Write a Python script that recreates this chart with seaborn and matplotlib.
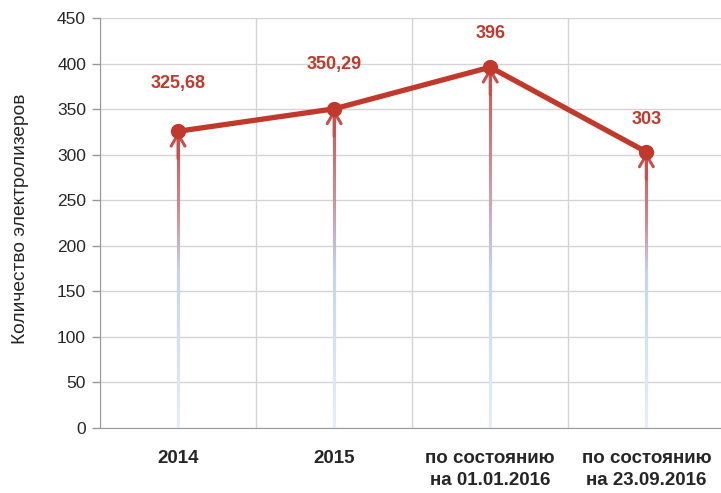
import numpy as np
import pandas as pd
import matplotlib
matplotlib.use("Agg")
import matplotlib.pyplot as plt
import seaborn as sns
from matplotlib.collections import LineCollection
from matplotlib.colors import LinearSegmentedColormap

categories = ["2014", "2015", "по состоянию\nна 01.01.2016", "по состоянию\nна 23.09.2016"]
values = [325.68, 350.29, 396, 303]
value_labels = ["325,68", "350,29", "396", "303"]
y_ticks = list(range(0, 451, 50))

RED = "#c0392b"
SHAFT_RED = "#c6504e"

sns.set_style("white")
plt.rcParams["font.family"] = ["Liberation Sans", "DejaVu Sans"]

df = pd.DataFrame({"pos": np.arange(len(categories)), "value": values})

fig = plt.figure(figsize=(7.21, 4.93), dpi=100)
ax = fig.add_axes([0.1387, 0.1318, 0.866, 0.8317])

# gradient arrows from 0 up to each point: pale blue at the bottom, red at the top
for x, v in zip(df["pos"], df["value"]):
    cmap = LinearSegmentedColormap.from_list(
        "shaft", [(0, "#e8eef9"), (170 / v, "#c4d5f1"), (0.75, "#c98a94"), (1, SHAFT_RED)])
    ys = np.linspace(0, v - 6, 240)
    segs = [[(x, ys[i]), (x, ys[min(i + 2, len(ys) - 1)])] for i in range(len(ys) - 1)]
    cols = cmap(ys[:-1] / v)
    ax.add_collection(LineCollection(segs, colors=cols, linewidths=2.2,
                                     capstyle="butt", zorder=2))
    ax.annotate("", xy=(x, v), xytext=(x, v - 30),
                arrowprops=dict(arrowstyle="->,head_length=0.85,head_width=0.5",
                                color=SHAFT_RED, lw=2.2, shrinkA=0, shrinkB=0),
                zorder=2)

sns.lineplot(data=df, x="pos", y="value", ax=ax, color=RED, linewidth=3.8,
             marker="o", markersize=11, markeredgewidth=0, zorder=3)

label_offsets = [28, 26, 18, 17]
for x, v, lab, off in zip(df["pos"], df["value"], value_labels, label_offsets):
    ax.annotate(lab, xy=(x, v), xytext=(0, off), textcoords="offset points",
                ha="center", va="bottom", color=RED, fontsize=13, fontweight="bold")

ax.set_xlim(-0.5, 3.5)
ax.set_ylim(0, 450)
ax.set_yticks(y_ticks)
ax.set_xticks(range(len(categories)))
ax.set_xticklabels(categories, fontweight="bold", fontsize=13.5, va="top", linespacing=1.35)
ax.set_xticks([-0.5, 0.5, 1.5, 2.5, 3.5], minor=True)
ax.tick_params(axis="x", which="both", length=0, pad=16)
ax.tick_params(axis="y", length=6, width=1, color="#999999", labelsize=12.5, pad=4, direction="out", left=True)
ax.grid(axis="y", color="#d4d4d4", linewidth=1)
ax.grid(axis="x", which="minor", color="#d4d4d4", linewidth=1)
ax.set_axisbelow(True)

for side in ["top", "right"]:
    ax.spines[side].set_visible(False)
ax.spines["left"].set_color("#999999")
ax.spines["bottom"].set_color("#999999")

ax.set_xlabel("")
ax.set_ylabel("Количество электролизеров", fontsize=13.75)
ax.yaxis.set_label_coords(-0.113, 0.51)

fig.savefig("out.png", dpi=100)
